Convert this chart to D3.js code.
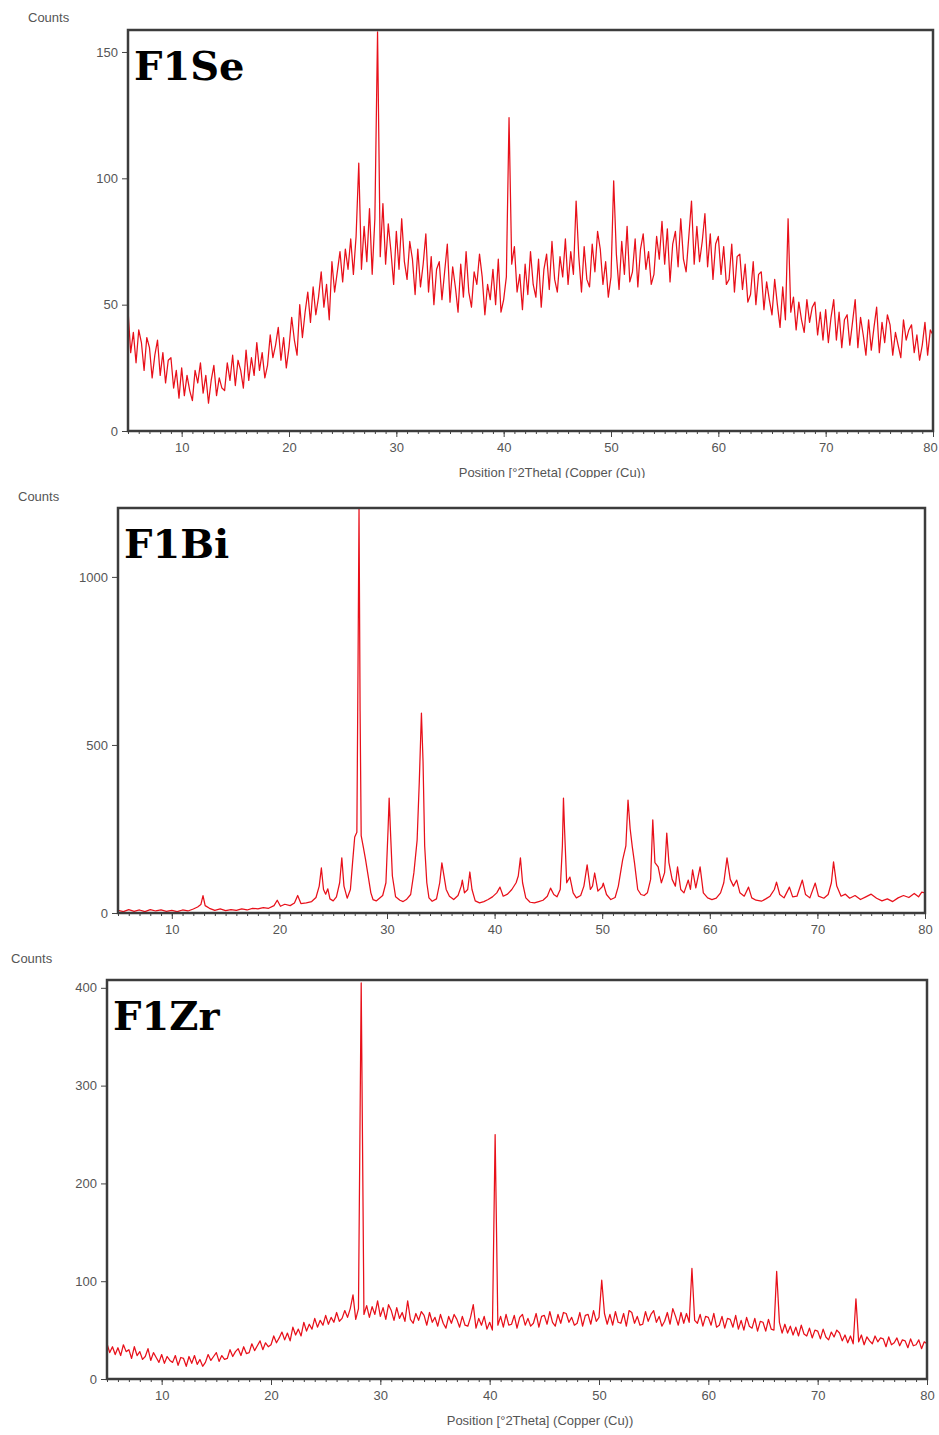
<!DOCTYPE html>
<html><head><meta charset="utf-8">
<script src="https://cdn.jsdelivr.net/npm/d3@7"></script>
<style>body{margin:0;background:#fff}</style>
</head><body>
<svg id="c" width="939" height="1435"></svg>
<script>
// ---- data ----
const thetaStart = 5, thetaStep = 0.25;
const seCounts = [
48,31,39,27, 40,35,24,37, 33,21,30,36, 22,31,19,28, 29,17,24,13,
25,14,22,16, 12,24,19,27, 15,22,11,20, 26,14,21,17, 16,27,20,30,
18,28,24,17, 32,20,29,22, 35,24,31,21, 26,38,29,34, 41,28,37,25,
33,45,36,30, 50,37,47,55, 43,57,46,53, 63,49,58,44, 67,55,63,71,
59,72,64,76, 62,77,106,64, 81,67,88,62, 84,158,69,90, 66,82,71,58,
79,64,84,67, 60,75,68,54, 72,57,66,78, 55,69,50,64, 67,52,63,74,
51,65,57,47, 66,53,71,55, 49,63,58,70, 61,46,58,52, 64,50,68,47,
52,61,124,66, 73,55,62,48, 66,54,71,58, 53,68,49,64, 70,56,75,60,
55,69,61,76, 58,71,62,91, 69,55,73,60, 57,74,63,79, 72,58,67,53,
61,99,70,56, 75,62,81,59, 63,76,57,72, 78,64,71,58, 62,77,68,83,
66,80,59,74, 79,65,84,68, 63,77,91,66, 81,67,75,86, 65,78,60,74,
77,62,73,58, 60,74,55,69, 70,56,66,51, 54,67,50,62, 63,48,59,52,
46,60,50,41, 57,44,84,47, 53,40,51,44, 39,52,43,49, 51,38,47,36,
48,35,45,52, 36,47,33,44, 46,34,43,52, 33,45,38,30, 44,32,41,49,
31,43,35,46, 42,30,39,34, 29,44,36,40, 42,31,38,28, 34,43,30,40,
38];
const zrCounts = [
36,27,33,25, 32,24,35,28, 30,21,33,24, 28,20,23,31, 19,27,22,17,
25,16,23,19, 17,24,14,22, 21,13,23,16, 24,15,20,13, 17,25,19,23,
27,18,24,20, 21,30,23,28, 31,24,33,26, 27,36,29,34, 39,30,37,33,
35,44,37,42, 48,40,47,39, 53,45,51,44, 58,49,56,51, 62,53,60,55,
65,56,63,58, 68,59,62,70, 63,72,86,61, 72,405,66,75, 63,74,66,80,
64,73,61,76, 70,60,73,62, 68,59,80,61, 57,67,60,69, 65,55,68,58,
63,54,66,57, 52,64,57,66, 61,53,64,55, 54,63,76,52, 62,55,64,51,
58,50,250,55, 64,53,66,55, 56,65,52,63, 66,55,62,54, 57,67,53,64,
65,56,69,58, 54,66,57,68, 67,58,63,55, 57,68,54,65, 66,56,70,59,
63,101,67,56, 66,55,69,58, 57,67,54,70, 68,57,64,55, 56,69,59,66,
70,58,64,54, 59,68,56,72, 64,55,68,57, 67,58,113,60, 57,66,54,64,
63,55,67,53, 55,64,52,62, 61,53,65,51, 60,50,63,54, 52,62,49,59,
58,49,61,51, 50,110,58,47, 56,47,54,45, 53,44,55,46, 44,52,42,50,
49,41,51,43, 40,48,43,50, 47,39,45,37, 44,36,82,38, 45,35,43,39,
36,44,38,42, 41,33,43,35, 37,42,34,40, 39,32,41,34, 35,40,31,38,
36];
const biTheta = [
5.0,5.5,6.0,6.5,7.0,7.5,8.0,8.5,9.0,9.5,10.0,10.5,11.0,11.5,12.0,12.4,12.7,12.9,13.1,13.5,
14.0,14.5,15.0,15.5,16.0,16.5,17.0,17.5,18.0,18.5,19.0,19.5,19.8,20.1,20.5,21.0,21.4,21.7,22.0,22.5,
23.0,23.4,23.7,23.9,24.1,24.3,24.5,24.7,25.0,25.3,25.6,25.8,26.0,26.3,26.6,26.8,27.0,27.2,27.3,27.4,
27.5,27.6,27.8,28.0,28.2,28.5,28.7,29.0,29.3,29.6,29.9,30.1,30.2,30.3,30.5,30.8,31.2,31.5,31.8,32.2,
32.5,32.8,33.0,33.2,33.35,33.5,33.7,33.9,34.2,34.6,34.9,35.1,35.3,35.5,35.8,36.2,36.6,36.9,37.0,37.2,
37.5,37.7,37.9,38.2,38.6,39.0,39.4,39.8,40.2,40.5,40.8,41.2,41.6,42.0,42.2,42.4,42.6,42.9,43.3,43.7,
44.1,44.5,44.9,45.2,45.5,45.8,46.1,46.3,46.4,46.5,46.7,47.0,47.3,47.6,48.0,48.3,48.6,48.9,49.1,49.3,
49.6,50.0,50.1,50.4,50.8,51.2,51.5,51.9,52.2,52.4,52.6,52.8,53.0,53.3,53.6,53.9,54.2,54.5,54.7,54.9,
55.2,55.5,55.8,56.0,56.2,56.5,56.8,57.0,57.3,57.6,58.0,58.2,58.4,58.7,59.1,59.4,59.8,60.2,60.6,61.0,
61.3,61.6,61.9,62.2,62.5,62.8,63.2,63.6,63.9,64.3,64.8,65.2,65.6,66.0,66.2,66.5,66.9,67.4,67.7,68.1,
68.6,68.9,69.3,69.8,70.1,70.6,71.0,71.3,71.5,71.8,72.2,72.6,73.0,73.5,74.0,74.5,75.0,75.5,76.0,76.5,
77.0,77.5,78.0,78.5,79.0,79.4,79.7,80.0];
const biCounts = [
8,4,10,5,9,4,10,6,9,5,8,4,9,6,12,18,25,52,22,14,
8,12,7,10,8,12,9,14,12,16,14,22,38,20,26,22,30,52,28,30,
34,46,80,134,70,56,72,42,36,48,90,164,80,44,70,150,226,240,700,1205,
600,230,196,160,120,60,40,36,44,52,90,250,342,260,110,48,38,34,40,55,
120,217,390,595,450,200,90,45,35,42,90,149,110,70,50,40,52,80,98,60,
70,122,70,36,30,34,40,48,60,77,50,56,70,90,110,164,90,45,32,30,
34,38,50,74,55,48,70,200,342,250,90,107,60,45,52,80,143,70,80,119,
65,78,89,55,40,46,80,158,200,336,250,196,150,70,55,52,60,100,277,150,
137,90,120,238,150,100,80,137,70,60,98,70,128,75,137,60,45,40,44,60,
90,164,100,80,98,60,50,77,45,38,35,42,50,70,92,55,45,77,48,50,
98,55,45,89,50,44,55,90,152,80,50,56,44,52,40,48,56,44,36,42,
34,45,52,46,58,48,62,60];
const xTicks = [10,20,30,40,50,60,70,80];
const seTicks = [0,50,100,150];
const biTicks = [0,500,1000];
const zrTicks = [0,100,200,300,400];
const titles = ["F1Se","F1Bi","F1Zr"];
const xLabel = "Position [°2Theta] (Copper (Cu))";
const yLabel = "Counts";

// ---- build series ----
const toPairs = arr => arr.map((v,i) => [thetaStart + i*thetaStep, v]);
const panels = [
  {name:titles[0], data:toPairs(seCounts), yMax:158.7, ticks:seTicks,
   L:128, R:933, T:30, B:431, clipH:478, xlab:true, xlabX:552, countsX:28, countsY:22},
  {name:titles[1], data:biTheta.map((t,i)=>[t,biCounts[i]]), yMax:1205, ticks:biTicks,
   L:118, R:925, T:508, B:913, clipH:null, xlab:false, countsX:18, countsY:501},
  {name:titles[2], data:toPairs(zrCounts), yMax:408, ticks:zrTicks,
   L:107, R:927, T:980, B:1379, clipH:null, xlab:true, xlabX:540, countsX:11, countsY:963}
];

const svg = d3.select("#c");
const defs = svg.append("defs");
const sans = "'Liberation Sans', Arial, sans-serif";

panels.forEach((p, k) => {
  const x = d3.scaleLinear().domain([5,80]).range([p.L, p.R]);
  const y = d3.scaleLinear().domain([0,p.yMax]).range([p.B, p.T]);
  const g = svg.append("g");
  if (p.clipH) {
    defs.append("clipPath").attr("id","pc"+k).append("rect")
      .attr("x",0).attr("y",0).attr("width",939).attr("height",p.clipH);
    g.attr("clip-path","url(#pc"+k+")");
  }
  defs.append("clipPath").attr("id","plot"+k).append("rect")
    .attr("x",p.L).attr("y",p.T).attr("width",p.R-p.L).attr("height",p.B-p.T);

  // data trace
  g.append("path").datum(p.data)
    .attr("clip-path","url(#plot"+k+")")
    .attr("fill","none").attr("stroke","#e8101a").attr("stroke-width",1.25)
    .attr("stroke-linejoin","round")
    .attr("d", d3.line().x(d=>x(d[0])).y(d=>y(d[1])));

  // minor x ticks
  const minor = g.append("g").attr("transform",`translate(0,${p.B})`)
    .call(d3.axisBottom(x).tickValues(d3.range(5,81,1)).tickSize(3).tickFormat(""));
  minor.select(".domain").remove();
  minor.selectAll("line").attr("stroke","#444").attr("stroke-width",1);

  // major x ticks
  const xa = g.append("g").attr("transform",`translate(0,${p.B})`)
    .call(d3.axisBottom(x).tickValues(xTicks).tickSize(6).tickPadding(6).tickFormat(d3.format("d")));
  xa.select(".domain").remove();
  xa.selectAll("line").attr("stroke","#444");
  xa.selectAll("text").attr("fill","#555").style("font-family",sans).style("font-size","13px")
    .attr("dx", d => (x(d) + 8 > 938 ? -(x(d) + 8 - 938) : 0));

  // y ticks
  const ya = g.append("g").attr("transform",`translate(${p.L},0)`)
    .call(d3.axisLeft(y).tickValues(p.ticks).tickSize(6).tickPadding(4).tickFormat(d3.format("d")));
  ya.select(".domain").remove();
  ya.selectAll("line").attr("stroke","#444");
  ya.selectAll("text").attr("fill","#555").style("font-family",sans).style("font-size","13px");

  // frame
  g.append("rect").attr("x",p.L).attr("y",p.T).attr("width",p.R-p.L).attr("height",p.B-p.T)
    .attr("fill","none").attr("stroke","#3c3c3c").attr("stroke-width",2.5);

  // Counts label
  g.append("text").attr("x",p.countsX).attr("y",p.countsY).text(yLabel)
    .attr("fill","#555").style("font-family",sans).style("font-size","13px");

  // x axis title
  if (p.xlab) {
    g.append("text").attr("x",p.xlabX).attr("y",p.B+46).attr("text-anchor","middle").text(xLabel)
      .attr("fill","#555").style("font-family",sans).style("font-size","13px");
  }

  // panel title
  g.append("text").attr("x",p.L+6).attr("y",p.T+50).text(p.name)
    .attr("fill","#000").style("font-family","'DejaVu Serif', serif").style("font-weight","bold").style("font-size","40px");
});
</script>
</body></html>
